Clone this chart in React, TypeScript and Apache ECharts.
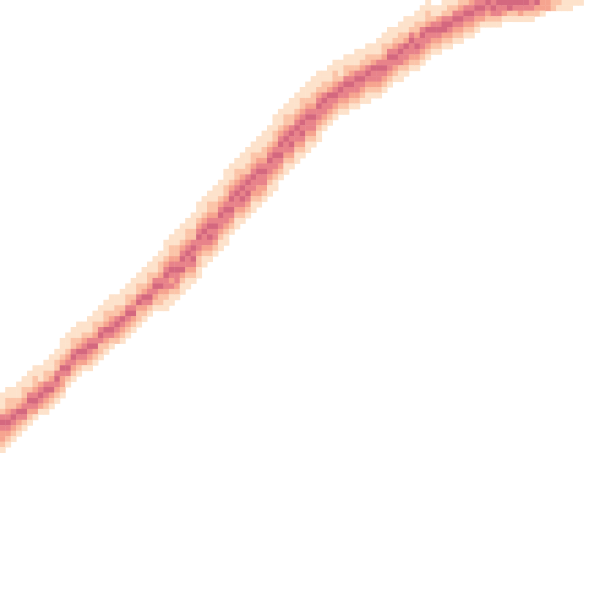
import React, { useEffect, useRef } from "react";
import * as echarts from "echarts";

// Heatmap grid: 110 x 110 cells
const COLS = 110;
const ROWS = 110;
const xCategories = Array.from({ length: COLS }, (_, i) => String(i));
const yCategories = Array.from({ length: ROWS }, (_, i) => String(i));

// For each column: first row (from top) where the band starts
const columnTops = [
  72, 71, 71, 70, 69, 68, 67, 67, 66, 65,
  64, 62, 61, 60, 59, 59, 58, 57, 56, 55,
  54, 54, 53, 52, 51, 50, 49, 48, 47, 46,
  44, 43, 42, 41, 40, 39, 37, 36, 35, 34,
  33, 31, 30, 29, 28, 27, 26, 25, 24, 23,
  21, 20, 19, 18, 17, 16, 15, 14, 13, 13,
  12, 11, 11, 10, 10, 9, 9, 8, 8, 7,
  6, 5, 5, 4, 3, 3, 2, 1, 0, 1,
  1, 0, 0, 0, 0, 0, 0, 0, 0, 0,
  0, 0, 0, 0, 0, 0, 0, 0, 0, 0,
  0, 0, 0, 0, 0, 0, 0,
];

// For each column: intensity levels (1 light .. 5 dark), top to bottom
const columnLevels = [
  "11124543321", "11223454321", "1122454321", "1112354321", "1122345421",
  "1112454321", "1122345431", "111345431", "1122454321", "1112345321",
  "1122454321", "11123543321", "1112345421", "1122454321", "1112354321",
  "112345431", "1112454321", "1122345321", "1112454221", "1122354321",
  "1112345421", "112245432", "1112354321", "1122454321", "1112345321",
  "1122453221", "1112354321", "1122345421", "1112454321", "11223453221",
  "1112345443211", "1122345434211", "1112234544321", "1112345453211", "1122345443211",
  "1112245454321", "11123454432211", "1112345443211", "1122345454321", "1112234544321",
  "1112345443211", "11122345443211", "1112345454321", "1122345443211", "1112345454321",
  "1112245454321", "1122345443211", "1112345443321", "1112234544321", "1112345443211",
  "11122345443211", "1112345454321", "1122345443211", "1112245454321", "1112345443211",
  "1122345454321", "1112345443211", "1112234544321", "1112345443211", "11224544321",
  "11123544321", "11223454321", "1112454321", "11224544321", "1123454321",
  "11124544321", "1123454321", "11224543211", "1123544321", "11124544321",
  "11223454321", "11124544321", "1123454321", "11224544211", "11123544321",
  "1124544321", "11223454321", "11124544321", "11223544321", "112454321",
  "113454321", "112455321", "122454321", "12454321", "23454321",
  "2454321", "3454321", "454321", "45431", "54321",
  "45421", "54421", "5431", "5521", "5421",
  "5431", "5421", "4421", "532", "331",
  "33", "22", "21", "11", "11",
  "1", "1",
];

const levelColors = ["#fde2cb", "#fbc4a8", "#f6a48f", "#e8838a", "#d4687f"];

export default function App() {
  const ref = useRef<HTMLDivElement>(null);
  useEffect(() => {
    if (!ref.current) return;
    const chart = echarts.init(ref.current, undefined, { renderer: "svg" });
    const data: number[][] = [];
    columnLevels.forEach((levels, c) => {
      const top = columnTops[c];
      for (let i = 0; i < levels.length; i++) {
        const r = top + i;
        if (r >= 0 && r < ROWS) data.push([c, r, Number(levels[i])]);
      }
    });
    chart.setOption({
      animation: false,
      grid: { left: 0, top: 0, right: 0, bottom: 0 },
      xAxis: {
        type: "category",
        data: xCategories,
        show: false,
      },
      yAxis: {
        type: "category",
        data: yCategories,
        inverse: true,
        show: false,
      },
      visualMap: {
        type: "piecewise",
        show: false,
        dimension: 2,
        pieces: levelColors.map((color, i) => ({ value: i + 1, color })),
      },
      series: [
        {
          type: "heatmap",
          data,
          itemStyle: { borderWidth: 0 },
          emphasis: { disabled: true },
        },
      ],
    });
    return () => chart.dispose();
  }, []);
  return (
    <div
      ref={ref}
      style={{ position: "absolute", left: 0, top: 0, width: 600, height: 600 }}
    />
  );
}
